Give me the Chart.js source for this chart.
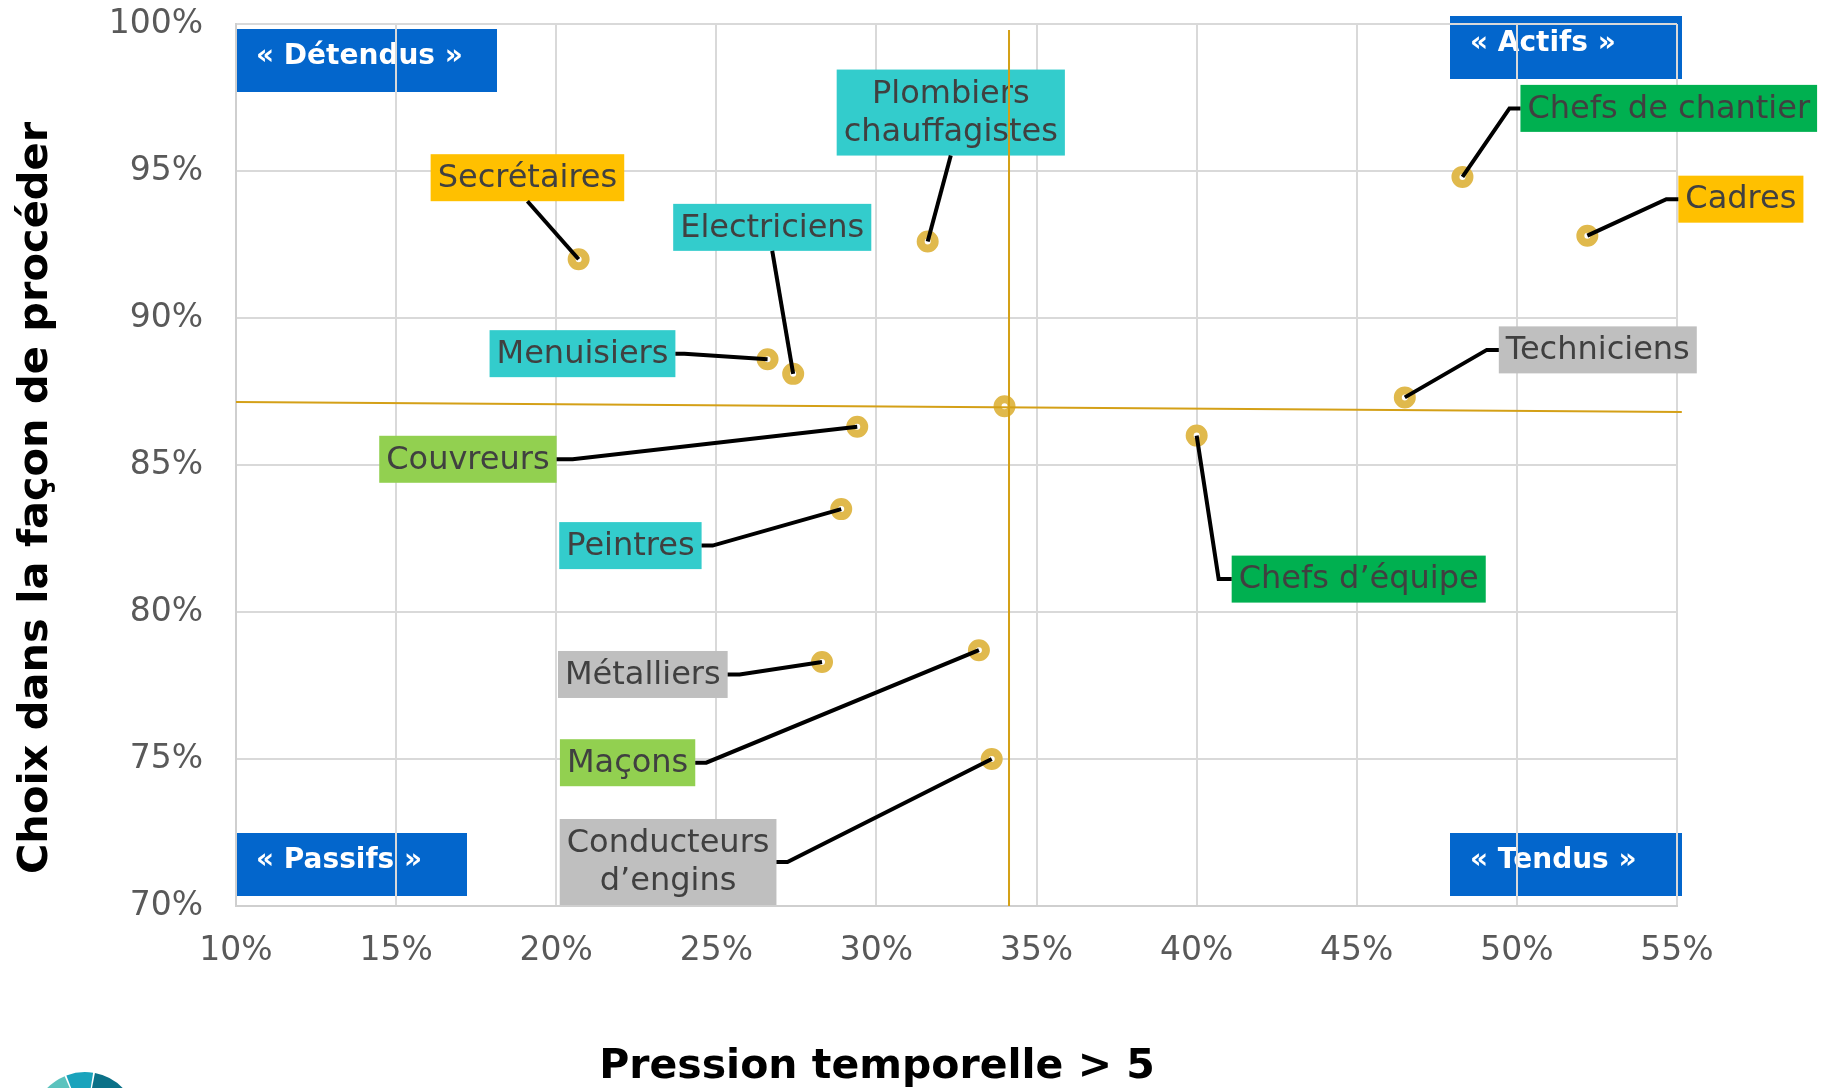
<!DOCTYPE html>
<html>
<head>
<meta charset="utf-8">
<script src="https://cdn.jsdelivr.net/npm/chart.js@4.4.1/dist/chart.umd.min.js"></script>
<style>
  html, body { margin: 0; padding: 0; background: #fff; }
  canvas { display: block; }
</style>
</head>
<body>
<canvas id="chart" width="1822" height="1088"></canvas>
<script>
// métiers (étiquettes des points), le dernier point est le point moyen
const metiers = [
  ['Secrétaires'], ['Plombiers', 'chauffagistes'], ['Electriciens'], ['Menuisiers'],
  ['Couvreurs'], ['Peintres'], ['Métalliers'], ['Maçons'], ['Conducteurs', 'd’engins'],
  ['Chefs d’équipe'], ['Chefs de chantier'], ['Cadres'], ['Techniciens'], []
];
// Pression temporelle > 5 (%)
const pressionTemporelle = [20.7, 31.6, 27.4, 26.6, 29.4, 28.9, 28.3, 33.2, 33.6, 40.0, 48.3, 52.2, 46.5, 34.0];
// Choix dans la façon de procéder (%)
const choixFacon = [92.0, 92.6, 88.1, 88.6, 86.3, 83.5, 78.3, 78.7, 75.0, 86.0, 94.8, 92.8, 87.3, 87.0];

// axes de séparation des quadrants
const axeVertX = [34.14, 34.14];
const axeVertY = [99.8, 70];
const axeHorizX = [10, 55.15];
const axeHorizY = [87.14, 86.80];

const quadrants = ['« Détendus »', '« Actifs »', '« Passifs »', '« Tendus »'];

const xTicks = [10, 15, 20, 25, 30, 35, 40, 45, 50, 55];
const yTicks = [70, 75, 80, 85, 90, 95, 100];

// --- styles / mise en page ---
const couleursEtiquettes = ['#FFC000', '#33CCCC', '#33CCCC', '#33CCCC', '#92D050', '#33CCCC', '#BFBFBF',
  '#92D050', '#BFBFBF', '#00B050', '#00B050', '#FFC000', '#BFBFBF', null];

// position de la boîte par rapport au point (px) et type de trait de rappel
const placement = [
  { dx: -148, dy: -105, lien: 'bas' },
  { dx: -91, dy: -172, lien: 'bas' },
  { dx: -120, dy: -170, lien: 'bas' },
  { dx: -278, dy: -29, lien: 'droite', stub: 9 },
  { dx: -478, dy: 9, lien: 'droite', stub: 16 },
  { dx: -282, dy: 13, lien: 'droite', stub: 11 },
  { dx: -264, dy: -11, lien: 'droite', stub: 12 },
  { dx: -419, dy: 89, lien: 'droite', stub: 11 },
  { dx: -432, dy: 60, lien: 'droite', stub: 11 },
  { dx: 35, dy: 120, lien: 'gauche', stub: 13 },
  { dx: 58, dy: -92, lien: 'gauche', stub: 11 },
  { dx: 91, dy: -60, lien: 'gauche', stub: 12 },
  { dx: 94, dy: -71, lien: 'gauche', stub: 12 },
  null
];

// boîtes bleues des quadrants, relatives à la zone de tracé
const placementQuadrants = [
  { left: 0, top: 5, w: 261 },
  { right: 5, top: -8, w: 232 },
  { left: 0, bottom: -10, w: 231 },
  { right: 5, bottom: -10, w: 232 }
];

const LABEL_FONT = '32px "DejaVu Sans"';
const TICK_COLOR = '#595959';

function boite(chart, i) {
  const pl = placement[i];
  if (!pl) return null;
  const pt = chart.getDatasetMeta(2).data[i];
  const ctx = chart.ctx;
  ctx.font = LABEL_FONT;
  let w = 0;
  metiers[i].forEach(l => { w = Math.max(w, ctx.measureText(l).width); });
  w += 14;
  const h = metiers[i].length > 1 ? 86 : 47;
  return { x: pt.x + pl.dx, y: pt.y + pl.dy, w, h, px: pt.x, py: pt.y, pl };
}

const quadrantPlugin = {
  id: 'quadrants',
  beforeDraw(chart) {
    const { ctx, chartArea: a } = chart;
    ctx.save();
    placementQuadrants.forEach((q, i) => {
      const h = 63;
      const x = q.left !== undefined ? a.left + q.left : a.right + q.right - q.w;
      const y = q.top !== undefined ? a.top + q.top : a.bottom + q.bottom - h;
      ctx.fillStyle = '#0366CC';
      ctx.fillRect(x, y, q.w, h);
      ctx.fillStyle = '#fff';
      ctx.font = 'bold 28px "DejaVu Sans"';
      ctx.textAlign = 'left';
      ctx.textBaseline = 'middle';
      ctx.fillText(quadrants[i], x + 20, y + h / 2 - 4);
    });
    ctx.restore();
  }
};

const etiquettesPlugin = {
  id: 'etiquettes',
  beforeDatasetsDraw(chart) {
    const ctx = chart.ctx;
    ctx.save();
    metiers.forEach((lignes, i) => {
      const b = boite(chart, i);
      if (!b) return;
      ctx.fillStyle = couleursEtiquettes[i];
      ctx.fillRect(b.x, b.y, b.w, b.h);
      ctx.fillStyle = '#404040';
      ctx.font = LABEL_FONT;
      ctx.textAlign = 'center';
      ctx.textBaseline = 'middle';
      const cx = b.x + b.w / 2, cy = b.y + b.h / 2 + 1;
      if (lignes.length === 1) ctx.fillText(lignes[0], cx, cy);
      else {
        ctx.fillText(lignes[0], cx, cy - 19);
        ctx.fillText(lignes[1], cx, cy + 19);
      }
    });
    ctx.restore();
  },
  afterDatasetsDraw(chart) {
    const ctx = chart.ctx;
    ctx.save();
    ctx.strokeStyle = '#000';
    ctx.lineWidth = 4;
    ctx.lineJoin = 'miter';
    metiers.forEach((lignes, i) => {
      const b = boite(chart, i);
      if (!b) return;
      ctx.beginPath();
      if (b.pl.lien === 'bas') {
        ctx.moveTo(b.x + b.w / 2, b.y + b.h);
      } else if (b.pl.lien === 'droite') {
        ctx.moveTo(b.x + b.w, b.y + b.h / 2);
        ctx.lineTo(b.x + b.w + b.pl.stub, b.y + b.h / 2);
      } else {
        ctx.moveTo(b.x, b.y + b.h / 2);
        ctx.lineTo(b.x - b.pl.stub, b.y + b.h / 2);
      }
      ctx.lineTo(b.px, b.py);
      ctx.stroke();
    });
    ctx.restore();
  },
  afterDraw(chart) {
    const { ctx, chartArea: a } = chart;
    ctx.save();
    ctx.fillStyle = '#000';
    ctx.textAlign = 'center';
    ctx.textBaseline = 'middle';
    // titre axe X
    ctx.font = 'bold 41px "DejaVu Sans"';
    ctx.fillText('Pression temporelle > 5', 877, 1067);
    // titre axe Y
    ctx.font = 'bold 41.5px "DejaVu Sans"';
    ctx.translate(36, (a.top + a.bottom) / 2 + 33);
    ctx.rotate(-Math.PI / 2);
    ctx.fillText('Choix dans la façon de procéder', 0, 0);
    ctx.restore();

    // logo (coupé en bas de page)
    ctx.save();
    const cx = 85, cy = 1124, r = 52;
    const parts = [[-160, -113, '#5BC3BE'], [-111, -81, '#1AA3BC'], [-79, -30, '#0B7188']];
    parts.forEach(p => {
      ctx.beginPath();
      ctx.moveTo(cx, cy);
      ctx.arc(cx, cy, r, p[0] * Math.PI / 180, p[1] * Math.PI / 180);
      ctx.closePath();
      ctx.fillStyle = p[2];
      ctx.fill();
    });
    ctx.restore();
  }
};

const pointsData = pressionTemporelle.map((x, i) => ({ x, y: choixFacon[i] }));

new Chart(document.getElementById('chart'), {
  type: 'scatter',
  data: {
    datasets: [
      {
        data: axeVertX.map((x, i) => ({ x, y: axeVertY[i] })),
        showLine: true, borderColor: '#D4A017', borderWidth: 2, pointRadius: 0, clip: false, order: 0
      },
      {
        data: axeHorizX.map((x, i) => ({ x, y: axeHorizY[i] })),
        showLine: true, borderColor: '#D4A017', borderWidth: 2, pointRadius: 0, clip: false, order: 0
      },
      {
        data: pointsData,
        pointRadius: 7, pointBorderWidth: 8,
        pointBorderColor: '#E0B94C', pointBackgroundColor: '#ffffff', order: 1
      }
    ]
  },
  options: {
    responsive: false,
    animation: false,
    layout: { padding: { left: 0, right: 145, top: 24, bottom: 0 } },
    plugins: { legend: { display: false }, tooltip: { enabled: false } },
    scales: {
      x: {
        type: 'linear', min: 10, max: 55,
        afterFit: s => { s.height = 182; s.paddingLeft = 0; s.paddingRight = 0; },
        afterBuildTicks: s => { s.ticks = xTicks.map(v => ({ value: v })); },
        grid: { color: '#D9D9D9', lineWidth: 2, drawTicks: false },
        border: { color: '#CFCFCF', width: 2 },
        ticks: { padding: 26, color: TICK_COLOR, font: { family: 'DejaVu Sans', size: 33 }, callback: v => v + '%' }
      },
      y: {
        type: 'linear', min: 70, max: 100,
        afterFit: s => { s.width = 236; s.paddingTop = 0; s.paddingBottom = 0; },
        afterBuildTicks: s => { s.ticks = yTicks.map(v => ({ value: v })); },
        grid: { color: '#D9D9D9', lineWidth: 2, drawTicks: false },
        border: { color: '#CFCFCF', width: 2 },
        ticks: { padding: 33, color: TICK_COLOR, font: { family: 'DejaVu Sans', size: 33 }, callback: v => v + '%' }
      }
    }
  },
  plugins: [quadrantPlugin, etiquettesPlugin]
});
</script>
</body>
</html>
